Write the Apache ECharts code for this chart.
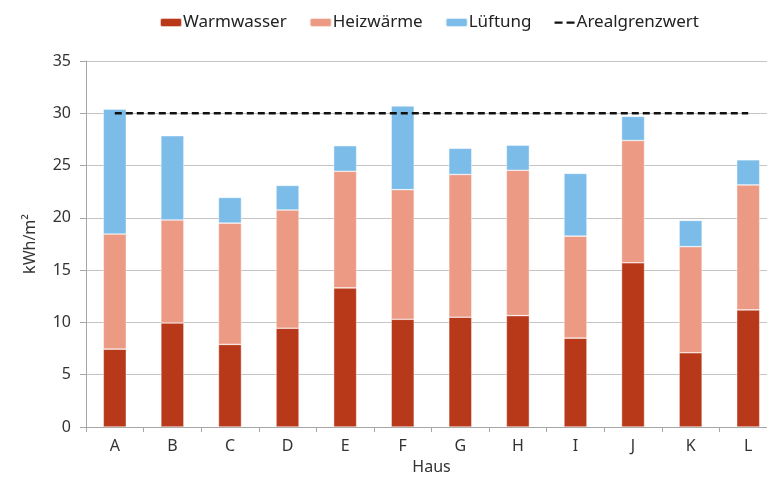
<!DOCTYPE html>
<html>
<head>
<meta charset="utf-8">
<script src="https://cdn.jsdelivr.net/npm/echarts@6/dist/echarts.min.js"></script>
<style>
html,body{margin:0;padding:0;background:#fff;}
#chart{width:767px;height:479px;}
</style>
</head>
<body>
<div id="chart"></div>
<script>
var categories = ['A','B','C','D','E','F','G','H','I','J','K','L'];
var warmwasser = [7.45, 9.95, 7.9, 9.45, 13.3, 10.3, 10.5, 10.65, 8.5, 15.7, 7.1, 11.2];
var heizwaerme = [11.0, 9.85, 11.6, 11.3, 11.15, 12.4, 13.65, 13.9, 9.75, 11.7, 10.15, 11.95];
var lueftung = [11.95, 8.05, 2.45, 2.35, 2.45, 8.0, 2.5, 2.4, 6.0, 2.3, 2.5, 2.4];
var grenzwert = [30,30,30,30,30,30,30,30,30,30,30,30];
var yTicks = {min:0, max:35, interval:5};

var font = '"Noto Sans", "Open Sans", sans-serif';
var chart = echarts.init(document.getElementById('chart'), null, {renderer:'canvas'});
var barBorder = {borderColor:'rgba(255,255,255,0.7)', borderWidth:0.6};
var dashIcon = 'path://M0,0L0.01,0L0.01,0.01Z M21.99,8.99L22,8.99L22,9Z M1,3.5L9,3.5L9,5.8L1,5.8Z M13,3.5L21,3.5L21,5.8L13,5.8Z';
chart.setOption({
  animation:false,
  backgroundColor:'#fff',
  textStyle:{fontFamily:font},
  legend:{
    top:14, left:159, padding:0, itemWidth:22, itemHeight:9, itemGap:22,
    textStyle:{fontFamily:font, fontSize:17, color:'#222', padding:[0,0,0,-4]},
    data:['Warmwasser','Heizwärme','Lüftung',{name:'Arealgrenzwert', icon:dashIcon}]
  },
  grid:{left:86, right:-10, top:61, bottom:52, outerBoundsMode:'none'},
  xAxis:{
    type:'category', data:categories,
    name:'Haus', nameLocation:'middle', nameGap:32,
    nameTextStyle:{fontFamily:font, fontSize:16, color:'#333'},
    axisLine:{lineStyle:{color:'#a6a6a6', width:1}},
    axisTick:{show:true, length:5, lineStyle:{color:'#a6a6a6'}},
    axisLabel:{fontFamily:font, fontSize:16, color:'#333', margin:11}
  },
  yAxis:{
    type:'value', min:yTicks.min, max:yTicks.max, interval:yTicks.interval,
    name:'kWh/m²', nameLocation:'middle', nameGap:48,
    nameTextStyle:{fontFamily:font, fontSize:16, color:'#333'},
    axisLine:{show:true, lineStyle:{color:'#a6a6a6', width:1}},
    axisTick:{show:true, length:6, lineStyle:{color:'#a6a6a6'}},
    axisLabel:{fontFamily:font, fontSize:16, color:'#333', margin:15},
    splitLine:{lineStyle:{color:'#c4c4c4', width:1}}
  },
  series:[
    {name:'Warmwasser', type:'bar', stack:'s', barWidth:23, data:warmwasser,
     itemStyle:Object.assign({color:'#B8391A'}, barBorder)},
    {name:'Heizwärme', type:'bar', stack:'s', barWidth:23, data:heizwaerme,
     itemStyle:Object.assign({color:'#EC9A84'}, barBorder)},
    {name:'Lüftung', type:'bar', stack:'s', barWidth:23, data:lueftung,
     itemStyle:Object.assign({color:'#7BBCE9'}, barBorder)},
    {name:'Arealgrenzwert', type:'line', data:grenzwert, symbol:'none',
     itemStyle:{color:'#111'},
     lineStyle:{color:'#111', width:2.5, type:[7,4]}, z:5}
  ]
});
</script>
</body>
</html>
